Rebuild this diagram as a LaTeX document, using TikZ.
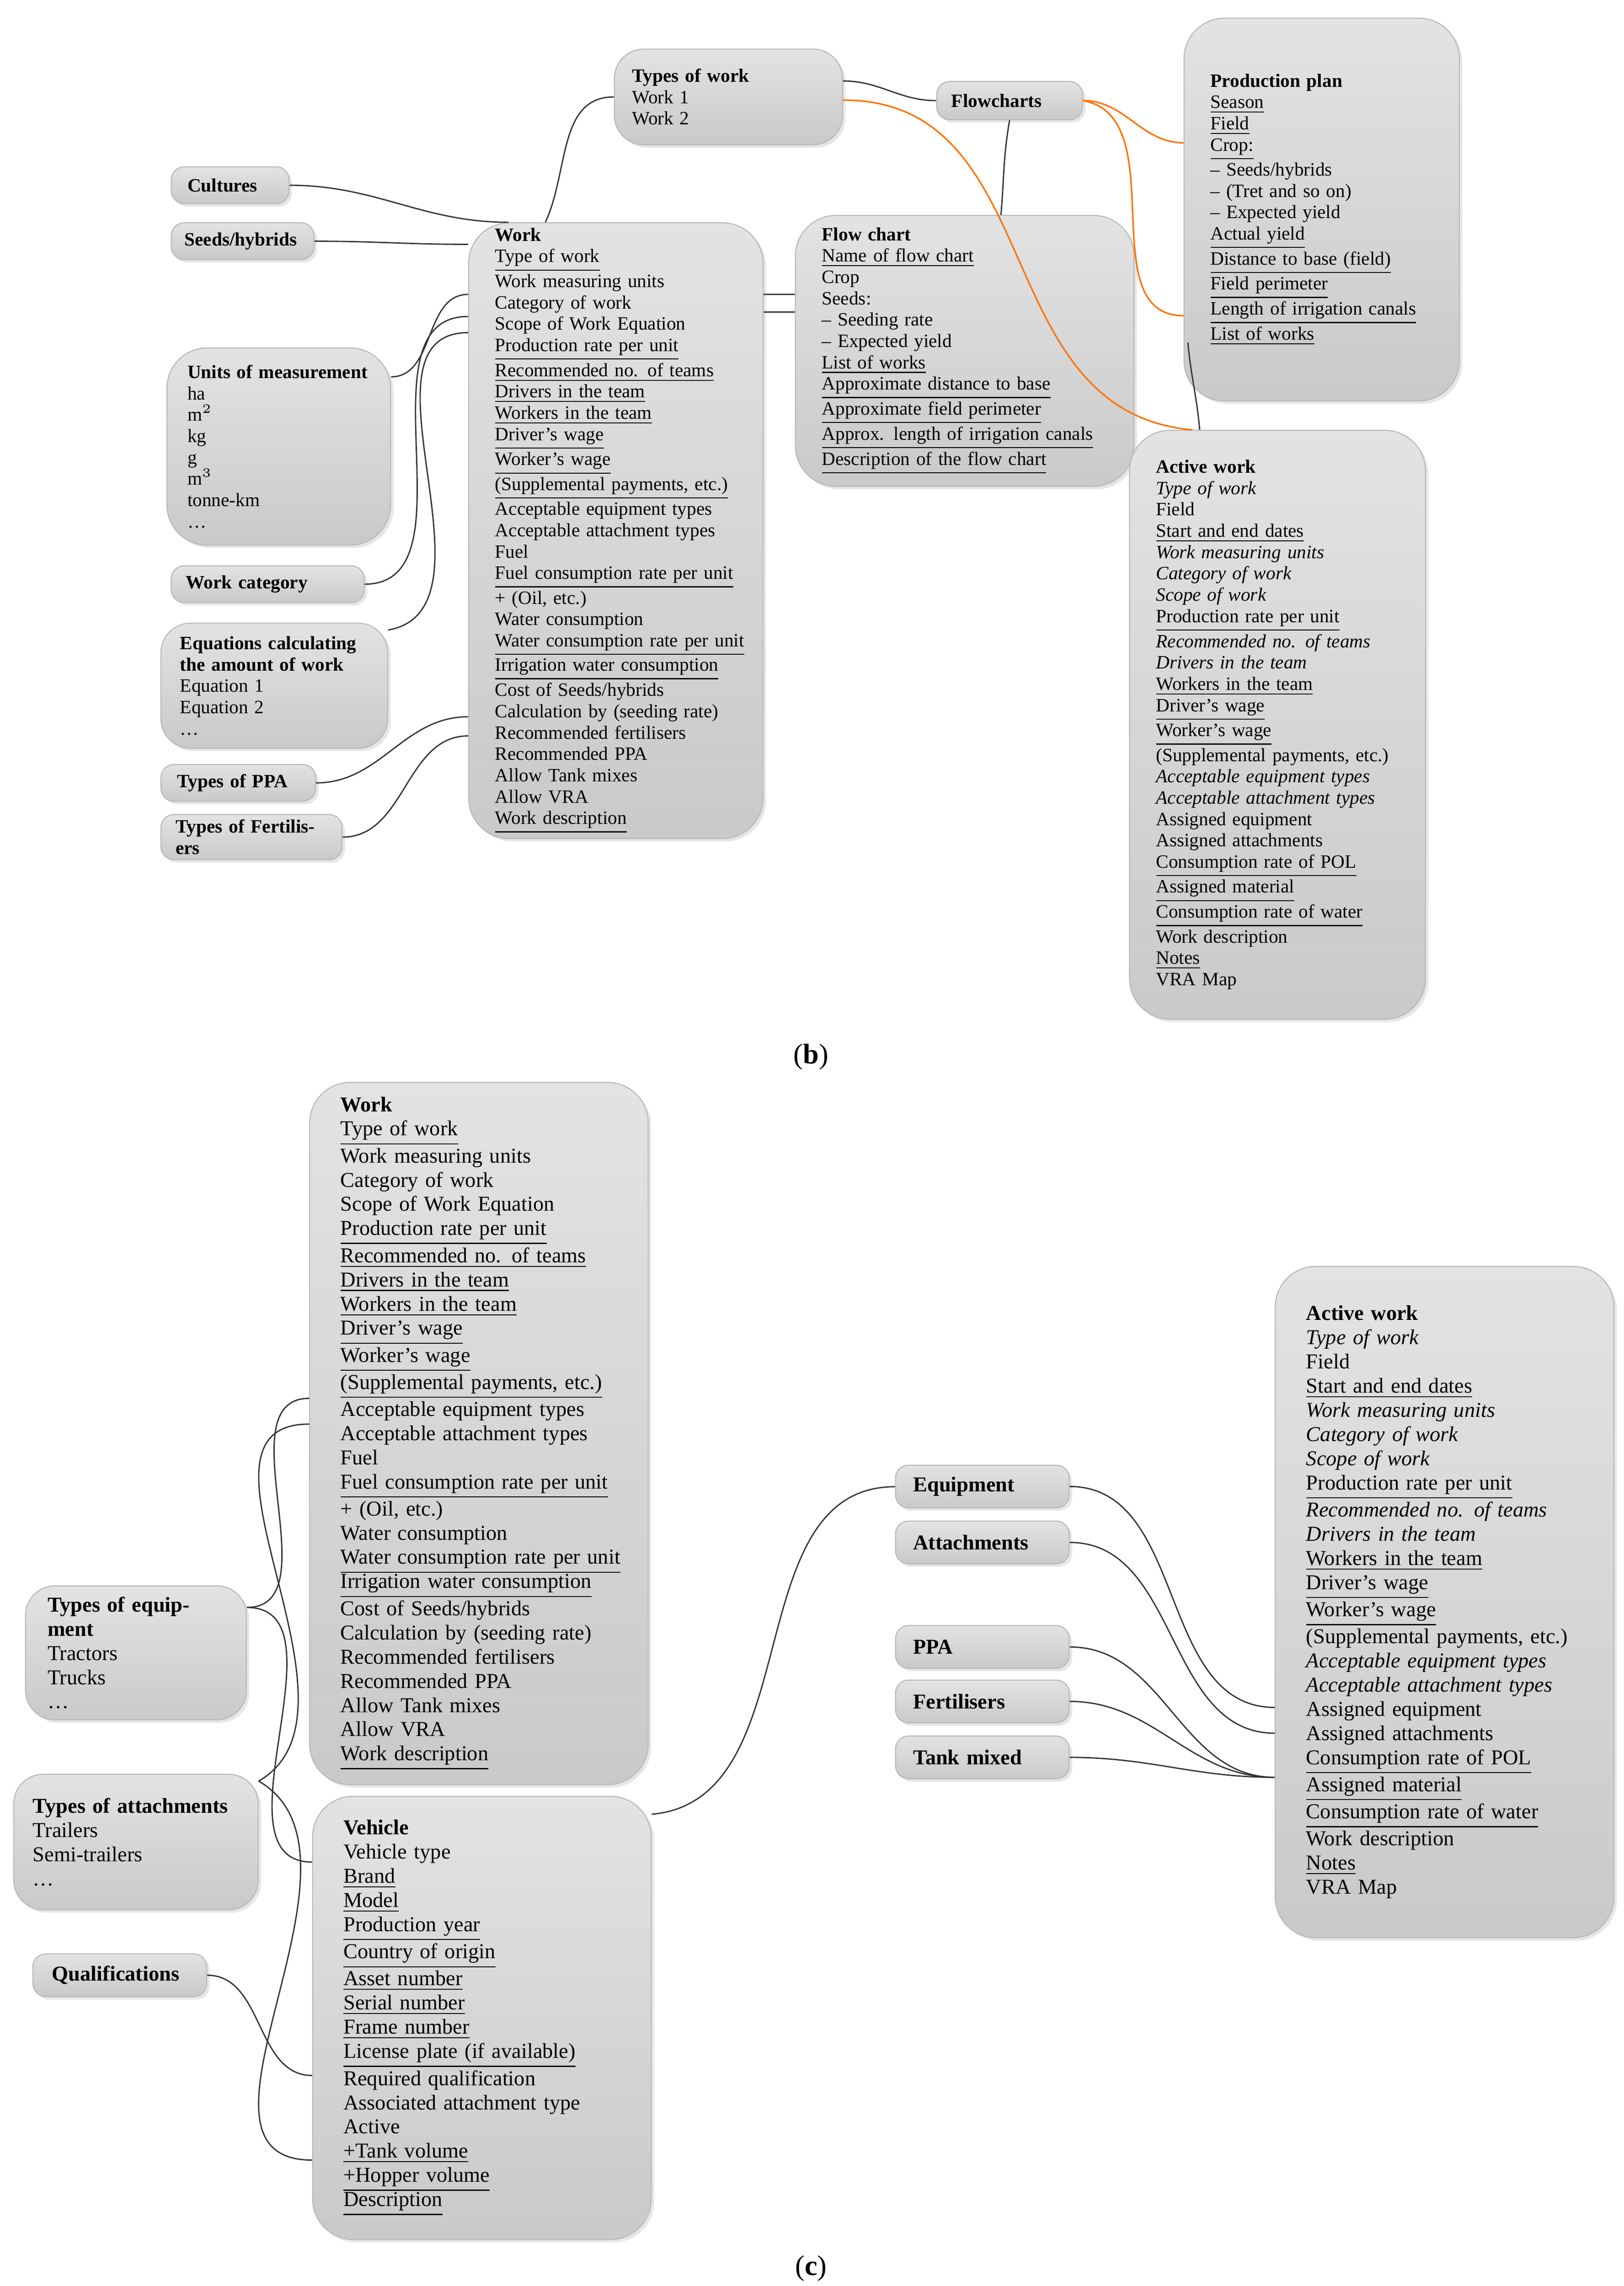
\documentclass[tikz,border=0pt]{standalone}
\usepackage{fontspec}
\setmainfont{Liberation Serif}
\usetikzlibrary{shadows}
\newcommand{\ud}[1]{\underline{#1}}
% name, x, y, w, h, xsep (px), style, text
\newcommand{\gbox}[8]{%
  \pgfmathsetmacro\bw{#4*0.02}\pgfmathsetmacro\bh{#5*0.02}%
  \pgfmathsetmacro\tw{(#4-2*#6)*0.02}\pgfmathsetmacro\xs{#6*0.02}%
  \node[box, #7, inner xsep=\xs cm, minimum width=\bw cm, minimum height=\bh cm,
        text width=\tw cm] (#1) at (#2,#3) {#8};}
\tikzset{
  box/.style={anchor=north west, align=left, inner ysep=2pt, draw=gray!55,
    top color=gray!22, bottom color=gray!42, rounded corners=5pt,
    drop shadow={opacity=0.2, shadow xshift=0.04cm, shadow yshift=-0.04cm}},
  big/.style={rounded corners=0.55cm},
  mid/.style={rounded corners=0.4cm},
  fb/.style={font=\fontsize{7.3}{8.25}\selectfont},
  fc/.style={font=\fontsize{8.2}{9.35}\selectfont},
  link/.style={draw=black!80, line width=0.5pt},
  olink/.style={draw=orange!90!red, line width=0.6pt}
}
\begin{document}
\begin{tikzpicture}[x=0.02cm, y=-0.02cm]
\useasboundingbox (0,0) rectangle (1103,1553);
% ---------- (b)
\gbox{typesw}{417}{33}{155}{65}{12}{fb, mid}{\textbf{Types of work}\\Work 1\\Work 2}
\gbox{fcharts}{636}{55}{99}{26}{10}{fb}{\textbf{Flowcharts}}
\gbox{pplan}{804}{12}{187}{260}{18}{fb, big}{\textbf{Production plan}\\\ud{Season}\\\ud{Field}\\\ud{Crop:}\\
  -- Seeds/hybrids\\-- (Tret and so on)\\-- Expected yield\\\ud{Actual yield}\\\ud{Distance to base (field)}\\
  \ud{Field perimeter}\\\ud{Length of irrigation canals}\\\ud{List of works}}
\gbox{cult}{116}{113}{80}{25}{11}{fb}{\textbf{Cultures}}
\gbox{seeds}{116}{151}{97}{25}{9}{fb}{\textbf{Seeds/hybrids}}
\gbox{workb}{318}{151}{200}{417}{18}{fb, big}{\textbf{Work}\\\ud{Type of work}\\Work measuring units\\Category of work\\
  Scope of Work Equation\\\ud{Production rate per unit}\\\ud{Recommended no. of teams}\\\ud{Drivers in the team}\\
  \ud{Workers in the team}\\\ud{Driver's wage}\\\ud{Worker's wage}\\\ud{(Supplemental payments, etc.)}\\
  Acceptable equipment types\\Acceptable attachment types\\Fuel\\\ud{Fuel consumption rate per unit}\\
  + (Oil, etc.)\\Water consumption\\\ud{Water consumption rate per unit}\\\ud{Irrigation water consumption}\\
  Cost of Seeds/hybrids\\Calculation by (seeding rate)\\Recommended fertilisers\\Recommended PPA\\
  Allow Tank mixes\\Allow VRA\\\ud{Work description}}
\gbox{flow}{540}{146}{230}{184}{18}{fb, big}{\textbf{Flow chart}\\\ud{Name of flow chart}\\Crop\\Seeds:\\
  -- Seeding rate\\-- Expected yield\\\ud{List of works}\\\ud{Approximate distance to base}\\
  \ud{Approximate field perimeter}\\\ud{Approx. length of irrigation canals}\\\ud{Description of the flow chart}}
\gbox{units}{113}{236}{152}{134}{14}{fb, big}{\textbf{Units of measurement}\\ha\\m$^2$\\kg\\g\\m$^3$\\tonne-km\\\dots}
\gbox{wcat}{116}{384}{131}{25}{10}{fb}{\textbf{Work category}}
\gbox{eqs}{109}{423}{154}{85}{13}{fb, mid}{\textbf{Equations calculating}\\\textbf{the amount of work}\\Equation 1\\Equation 2\\\dots}
\gbox{tppa}{109}{519}{105}{25}{11}{fb}{\textbf{Types of PPA}}
\gbox{tfert}{109}{553}{123}{25}{10}{fb}{\textbf{Types of Fertilisers}}
\gbox{awb}{767}{292}{201}{400}{18}{fb, big}{\textbf{Active work}\\\textit{Type of work}\\Field\\\ud{Start and end dates}\\
  \textit{Work measuring units}\\\textit{Category of work}\\\textit{Scope of work}\\\ud{Production rate per unit}\\
  \textit{Recommended no. of teams}\\\textit{Drivers in the team}\\\ud{Workers in the team}\\\ud{Driver's wage}\\
  \ud{Worker's wage}\\(Supplemental payments, etc.)\\\textit{Acceptable equipment types}\\
  \textit{Acceptable attachment types}\\Assigned equipment\\Assigned attachments\\\ud{Consumption rate of POL}\\
  \ud{Assigned material}\\\ud{Consumption rate of water}\\Work description\\\ud{Notes}\\VRA Map}
\node[font=\fontsize{11}{13}\selectfont] (labb) at (551,718) {(\textbf{b})};

\draw[link] (typesw.west) to[out=180, in=65] ([xshift=1.05cm]workb.north west);
\draw[link] (cult.east) to[out=0, in=180] ([xshift=0.55cm]workb.north west);
\draw[link] (seeds.east) to[out=0, in=180] ([yshift=-0.3cm]workb.north west);
\draw[link] ([yshift=-0.4cm]units.north east) to[out=0, in=180] ([yshift=-0.98cm]workb.north west);
\draw[link] (wcat.east) to[out=0, in=180] ([yshift=-1.28cm]workb.north west);
\draw[link] ([yshift=-0.1cm]eqs.north east) to[out=10, in=180] ([yshift=-1.5cm]workb.north west);
\draw[link] (tppa.east) to[out=0, in=180] ([yshift=-6.72cm]workb.north west);
\draw[link] (tfert.east) to[out=0, in=180] ([yshift=-6.98cm]workb.north west);
\draw[link] ([yshift=-0.98cm]workb.north east) -- ([yshift=-1.08cm]flow.north west);
\draw[link] ([yshift=-1.22cm]workb.north east) -- ([yshift=-1.32cm]flow.north west);
\draw[link] ([yshift=-0.44cm]typesw.north east) to[out=0, in=180] (fcharts.west);
\draw[link] (fcharts.south) to[out=-100, in=85] ([xshift=2.8cm]flow.north west);
\draw[link] ([xshift=0.06cm,yshift=0.8cm]pplan.south west) to[out=-85, in=95] ([xshift=0.96cm]awb.north west);
\draw[olink] ([yshift=-0.7cm]typesw.north east) to[out=0, in=175, looseness=1.1] ([xshift=0.86cm]awb.north west);
\draw[olink] (fcharts.east) to[out=0, in=180] ([yshift=-1.7cm]pplan.north west);
\draw[olink] (fcharts.east) to[out=-10, in=180] ([yshift=-4.05cm]pplan.north west);

% ---------- (c)
\gbox{workc}{210}{735}{230}{477}{21}{fc, big}{\textbf{Work}\\\ud{Type of work}\\Work measuring units\\Category of work\\
  Scope of Work Equation\\\ud{Production rate per unit}\\\ud{Recommended no. of teams}\\\ud{Drivers in the team}\\
  \ud{Workers in the team}\\\ud{Driver's wage}\\\ud{Worker's wage}\\\ud{(Supplemental payments, etc.)}\\
  Acceptable equipment types\\Acceptable attachment types\\Fuel\\\ud{Fuel consumption rate per unit}\\
  + (Oil, etc.)\\Water consumption\\\ud{Water consumption rate per unit}\\\ud{Irrigation water consumption}\\
  Cost of Seeds/hybrids\\Calculation by (seeding rate)\\Recommended fertilisers\\Recommended PPA\\
  Allow Tank mixes\\Allow VRA\\\ud{Work description}}
\gbox{veh}{212}{1220}{230}{301}{21}{fc, big}{\textbf{Vehicle}\\Vehicle type\\\ud{Brand}\\\ud{Model}\\\ud{Production year}\\
  \ud{Country of origin}\\\ud{Asset number}\\\ud{Serial number}\\\ud{Frame number}\\\ud{License plate (if available)}\\
  Required qualification\\Associated attachment type\\Active\\\ud{+Tank volume}\\\ud{+Hopper volume}\\\ud{Description}}
\gbox{teq}{17}{1077}{150}{91}{15}{fc, mid}{\textbf{Types of equipment}\\Tractors\\Trucks\\\dots}
\gbox{tatt}{9}{1205}{166}{92}{13}{fc, mid}{\textbf{Types of attachments}\\Trailers\\Semi-trailers\\\dots}
\gbox{qual}{22}{1327}{118}{29}{13}{fc}{\textbf{Qualifications}}
\gbox{equip}{608}{995}{118}{29}{12}{fc}{\textbf{Equipment}}
\gbox{attach}{608}{1033}{118}{29}{12}{fc}{\textbf{Attachments}}
\gbox{ppa}{608}{1104}{118}{29}{12}{fc}{\textbf{PPA}}
\gbox{fert}{608}{1141}{118}{29}{12}{fc}{\textbf{Fertilisers}}
\gbox{tank}{608}{1179}{118}{29}{12}{fc}{\textbf{Tank mixed}}
\gbox{awc}{866}{860}{230}{456}{21}{fc, big}{\textbf{Active work}\\\textit{Type of work}\\Field\\\ud{Start and end dates}\\
  \textit{Work measuring units}\\\textit{Category of work}\\\textit{Scope of work}\\\ud{Production rate per unit}\\
  \textit{Recommended no. of teams}\\\textit{Drivers in the team}\\\ud{Workers in the team}\\\ud{Driver's wage}\\
  \ud{Worker's wage}\\(Supplemental payments, etc.)\\\textit{Acceptable equipment types}\\
  \textit{Acceptable attachment types}\\Assigned equipment\\Assigned attachments\\\ud{Consumption rate of POL}\\
  \ud{Assigned material}\\\ud{Consumption rate of water}\\Work description\\\ud{Notes}\\VRA Map}
\node[font=\fontsize{11}{13}\selectfont] (labc) at (551,1541) {(\textbf{c})};

\draw[link] ([yshift=-0.3cm]teq.north east) to[out=0, in=180] ([yshift=-4.3cm]workc.north west);
\draw[link] ([yshift=-0.3cm]teq.north east) to[out=0, in=180] ([yshift=-0.9cm]veh.north west);
\draw[link] ([yshift=-0.1cm]tatt.north east) to[out=30, in=180] ([yshift=-4.65cm]workc.north west);
\draw[link] ([yshift=-0.1cm]tatt.north east) to[out=-30, in=180] ([yshift=-4.95cm]veh.north west);
\draw[link] (qual.east) to[out=0, in=180] ([yshift=-3.8cm]veh.north west);
\draw[link] ([yshift=-0.25cm]veh.north east) to[out=5, in=180] ([yshift=-0.3cm]equip.north west);
\draw[link] (equip.east) to[out=0, in=180] ([yshift=-6.0cm]awc.north west);
\draw[link] (attach.east) to[out=0, in=180] ([yshift=-6.35cm]awc.north west);
\draw[link] (ppa.east) to[out=0, in=180] ([yshift=-6.95cm]awc.north west);
\draw[link] (fert.east) to[out=0, in=180] ([yshift=-6.95cm]awc.north west);
\draw[link] (tank.east) to[out=0, in=180] ([yshift=-6.95cm]awc.north west);
\end{tikzpicture}
\end{document}
